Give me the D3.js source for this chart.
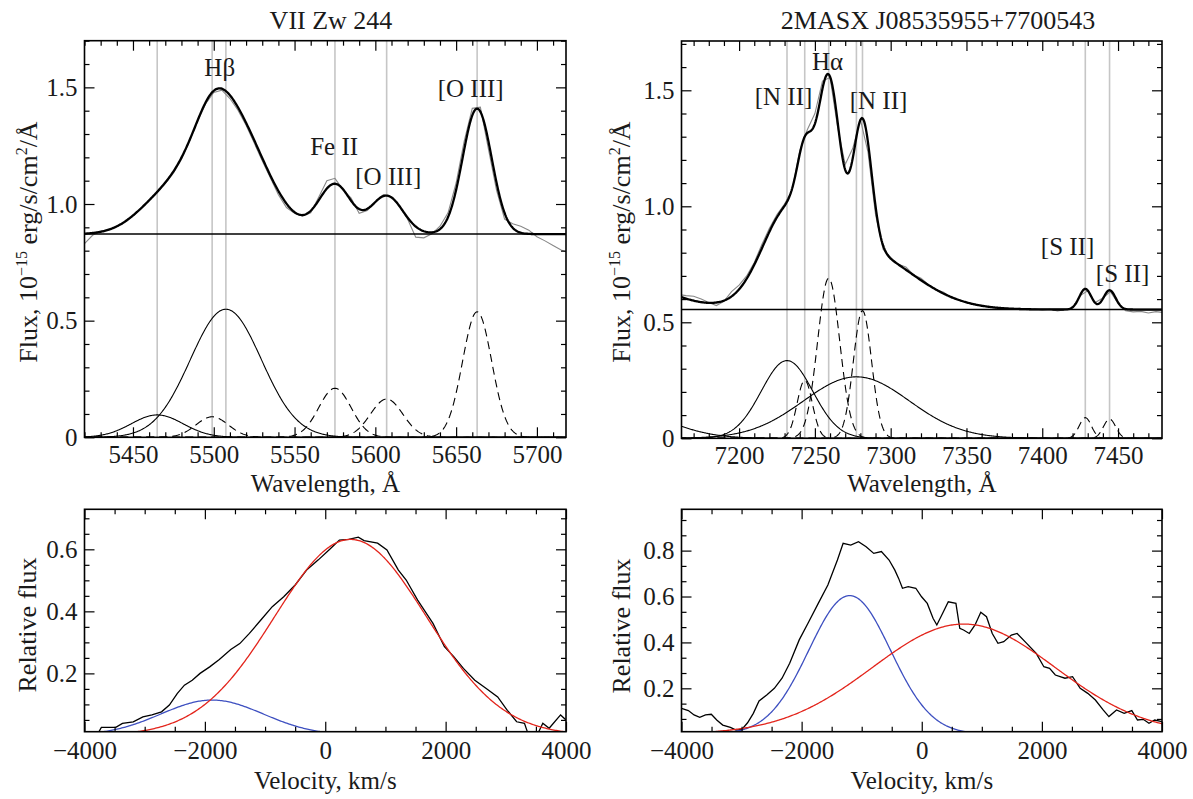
<!DOCTYPE html>
<html><head><meta charset="utf-8">
<script src="https://cdn.jsdelivr.net/npm/d3@7"></script>
<style>
body{margin:0;background:#fff;}
</style></head><body>
<svg id="chart" width="1193" height="799" xmlns="http://www.w3.org/2000/svg"></svg>
<script>
// ================= DATA =================
// --- Top-left: VII Zw 244, Hβ region ---
const tlTitle = "VII Zw 244";
const tlWaveDomain = [5420, 5718];
const tlFluxDomain = [0, 1.7];
const tlWaveMajor = [5450, 5500, 5550, 5600, 5650, 5700];
const tlWaveMinorStep = 10;
const tlFluxMajor = [0, 0.5, 1.0, 1.5];
const tlFluxMinorStep = 0.1;
const tlContinuum = 0.871;
const tlObsStart = 5420, tlObsStep = 5;
const tlObserved = [
  0.830,0.866,0.884,0.889,0.903,0.921,0.948,0.978,1.013,1.048,
  1.088,1.132,1.192,1.270,1.356,1.430,1.478,1.488,1.452,1.402,
  1.338,1.262,1.185,1.112,1.040,0.985,0.960,0.948,0.962,1.030,
  1.100,1.110,1.062,1.025,0.960,0.972,1.008,1.040,1.030,0.990,
  0.935,0.858,0.855,0.872,0.905,0.962,1.090,1.270,1.410,1.415,
  1.235,1.060,0.935,0.915,0.905,0.888,0.860,0.842,0.822,0.803,
  0.790];
// Gaussian fit components: centre (Å), peak flux, sigma (Å), broad(solid)/narrow(dashed)
const tlCompCenter = [5507.5, 5465, 5499, 5575, 5607, 5663];
const tlCompAmp    = [0.549, 0.096, 0.088, 0.210, 0.164, 0.538];
const tlCompSigma  = [22, 16, 10, 10, 10, 9];
const tlCompBroad  = [true, true, false, false, false, false];
const tlLineMarks  = [5465, 5499, 5507.5, 5575, 5607, 5663];
const tlLabels     = ["Hβ", "Fe II", "[O III]", "[O III]"];
const tlLabelWave  = [5503.7, 5574.5, 5608, 5659];
const tlLabelFlux  = [1.549, 1.21, 1.081, 1.46];

// --- Top-right: 2MASX J08535955+7700543, Hα region ---
const trTitle = "2MASX J08535955+7700543";
const trWaveDomain = [7162, 7479];
const trFluxDomain = [0, 1.7125];
const trWaveMajor = [7200, 7250, 7300, 7350, 7400, 7450];
const trWaveMinorStep = 10;
const trFluxMajor = [0, 0.5, 1.0, 1.5];
const trFluxMinorStep = 0.1;
const trContinuum = 0.555;
const trObsStart = 7160, trObsStep = 5;
const trObserved = [
  0.620,0.615,0.612,0.600,0.585,0.572,0.590,0.632,0.660,0.700,
  0.758,0.835,0.905,0.965,1.010,1.070,1.240,1.330,1.400,1.540,
  1.555,1.340,1.180,1.250,1.375,1.235,0.965,0.815,0.780,0.750,
  0.738,0.705,0.690,0.662,0.640,0.630,0.605,0.598,0.585,0.580,
  0.570,0.566,0.560,0.562,0.555,0.560,0.554,0.558,0.553,0.556,
  0.549,0.554,0.563,0.615,0.636,0.585,0.605,0.632,0.582,0.550,
  0.545,0.547,0.540,0.546,0.542];
const trCompCenter = [7277.4, 7231.6, 7120, 7243.3, 7259.1, 7281.4, 7428.4, 7444.4];
const trCompAmp    = [0.265, 0.335, 0.13, 0.25, 0.69, 0.55, 0.089, 0.083];
const trCompSigma  = [35, 17, 31, 5, 7.3, 6, 4, 4];
const trCompBroad  = [true, true, true, false, false, false, false, false];
const trLineMarks  = [7231.6, 7243.3, 7259.1, 7277.4, 7281.4, 7428.4, 7444.4];
const trLabels     = ["Hα", "[N II]", "[N II]", "[S II]", "[S II]"];
const trLabelWave  = [7258.4, 7229.3, 7292, 7416.7, 7453];
const trLabelFlux  = [1.588, 1.437, 1.418, 0.79, 0.675];

// --- Bottom-left: VII Zw 244 velocity profile ---
const blVelDomain = [-4000, 4000];
const blFluxDomain = [0.012, 0.729];
const blVelMajor = [-4000, -2000, 0, 2000, 4000];
const blVelMinorStep = 500;
const blFluxMajor = [0.2, 0.4, 0.6];
const blFluxMinorStep = 0.05;
const blVelocity = [-3780,-3720,-3480,-3370,-3190,-3030,-2880,-2720,-2590,-2460,
  -2340,-2210,-2080,-1920,-1760,-1570,-1420,-1260,-1070,-880,
  -690,-500,-310,-115,75,235,390,550,645,870,
  1025,1215,1345,1535,1790,1980,2135,2295,2485,2675,
  2865,3025,3180,3310,3370,3530,3615,3720,3910,4000];
const blFlux = [0.005,0.026,0.026,0.039,0.044,0.060,0.066,0.076,0.098,0.135,
  0.162,0.178,0.200,0.221,0.245,0.277,0.296,0.329,0.372,0.415,
  0.447,0.485,0.533,0.566,0.600,0.630,0.632,0.639,0.628,0.620,
  0.598,0.533,0.501,0.436,0.361,0.286,0.254,0.216,0.178,0.151,
  0.124,0.081,0.044,0.039,0.005,0.005,0.039,0.023,0.066,0.050];
const blFitCenter = [420, -1880];   // red, blue
const blFitAmp    = [0.632, 0.114];
const blFitSigma  = [1260, 850];

// --- Bottom-right: 2MASX velocity profile ---
const brVelDomain = [-4000, 4000];
const brFluxDomain = [0.011, 0.98];
const brVelMajor = [-4000, -2000, 0, 2000, 4000];
const brVelMinorStep = 500;
const brFluxMajor = [0.2, 0.4, 0.6, 0.8];
const brFluxMinorStep = 0.2 / 3;
const brVelocity = [-4000,-3886,-3791,-3696,-3600,-3504,-3409,-3313,-3186,-3091,
  -2995,-2900,-2804,-2709,-2581,-2454,-2326,-2199,-2040,-1881,
  -1723,-1563,-1404,-1309,-1182,-1053,-926,-799,-672,-544,
  -448,-385,-321,-226,-99,-3,92,188,251,346,
  442,569,633,696,791,887,983,1078,1174,1269,
  1365,1492,1588,1747,1906,2033,2128,2224,2384,2511,
  2638,2764,2891,3020,3116,3243,3370,3497,3592,3688,
  3783,3879,4000];
const brFlux = [0.113,0.103,0.084,0.074,0.084,0.087,0.061,0.040,0.030,0.018,
  0.021,0.050,0.091,0.145,0.171,0.200,0.244,0.309,0.411,0.490,
  0.570,0.650,0.759,0.832,0.824,0.839,0.817,0.788,0.796,0.759,
  0.715,0.679,0.636,0.643,0.636,0.599,0.570,0.505,0.476,0.526,
  0.577,0.570,0.461,0.454,0.439,0.476,0.531,0.512,0.439,0.396,
  0.403,0.432,0.439,0.396,0.352,0.294,0.287,0.258,0.244,0.251,
  0.200,0.178,0.149,0.106,0.077,0.106,0.091,0.103,0.062,0.065,
  0.048,0.062,0.055];
const brFitCenter = [700, -1200];   // red, blue
const brFitAmp    = [0.48, 0.604];
const brFitSigma  = [1520, 680];

// ================= DRAWING =================
const FONT = '"Liberation Serif","Times New Roman",Times,serif';
const TEXT = '#1a1a1a';
const svg = d3.select('#chart');
let clipCount = 0;
const gauss = (v, c, a, s) => a * Math.exp(-((v - c) ** 2) / (2 * s * s));

function minorValues(domain, step, majors) {
  const out = [];
  const start = Math.ceil(domain[0] / step - 1e-9);
  const end = Math.floor(domain[1] / step + 1e-9);
  for (let k = start; k <= end; k++) {
    const v = k * step;
    if (!majors.some(m => Math.abs(m - v) < step * 1e-3)) out.push(v);
  }
  return out;
}

function makePanel(p) {
  const x = d3.scaleLinear().domain(p.xDomain).range([p.left, p.right]);
  const y = d3.scaleLinear().domain(p.yDomain).range([p.bottom, p.top]);
  const g = svg.append('g');
  const id = 'clip' + (clipCount++);
  svg.append('clipPath').attr('id', id).append('rect')
    .attr('x', p.left).attr('y', p.top)
    .attr('width', p.right - p.left).attr('height', p.bottom - p.top);
  const plot = g.append('g').attr('clip-path', `url(#${id})`);
  return { x, y, g, plot };
}

function styleAxis(sel) {
  sel.select('.domain').remove();
  sel.selectAll('line').attr('stroke', '#000').attr('stroke-width', 1.2);
  sel.selectAll('text').attr('font-family', FONT).attr('font-size', 25).attr('fill', TEXT);
}

function drawAxes(P, p) {
  const { x, y, g } = P;
  const xMinor = minorValues(p.xDomain, p.xMinorStep, p.xMajor);
  const yMinor = minorValues(p.yDomain, p.yMinorStep, p.yMajor);
  const ax = g.append('g');
  ax.append('g').attr('transform', `translate(0,${p.bottom})`)
    .call(d3.axisBottom(x).tickValues(xMinor).tickSize(-5).tickFormat('')).call(styleAxis);
  ax.append('g').attr('transform', `translate(0,${p.bottom})`)
    .call(d3.axisBottom(x).tickValues(p.xMajor).tickSize(-10).tickPadding(p.xPad).tickFormat(p.xFormat)).call(styleAxis);
  ax.append('g').attr('transform', `translate(0,${p.top})`)
    .call(d3.axisTop(x).tickValues(xMinor).tickSize(-5).tickFormat('')).call(styleAxis);
  ax.append('g').attr('transform', `translate(0,${p.top})`)
    .call(d3.axisTop(x).tickValues(p.xMajor).tickSize(-10).tickFormat('')).call(styleAxis);
  ax.append('g').attr('transform', `translate(${p.left},0)`)
    .call(d3.axisLeft(y).tickValues(yMinor).tickSize(-5).tickFormat('')).call(styleAxis);
  ax.append('g').attr('transform', `translate(${p.left},0)`)
    .call(d3.axisLeft(y).tickValues(p.yMajor).tickSize(-10).tickPadding(7).tickFormat(p.yFormat)).call(styleAxis);
  ax.append('g').attr('transform', `translate(${p.right},0)`)
    .call(d3.axisRight(y).tickValues(yMinor).tickSize(-5).tickFormat('')).call(styleAxis);
  ax.append('g').attr('transform', `translate(${p.right},0)`)
    .call(d3.axisRight(y).tickValues(p.yMajor).tickSize(-10).tickFormat('')).call(styleAxis);
  g.append('rect').attr('x', p.left).attr('y', p.top)
    .attr('width', p.right - p.left).attr('height', p.bottom - p.top)
    .attr('fill', 'none').attr('stroke', '#000').attr('stroke-width', 1.6);
}

function addText(x, y, str, size, anchor) {
  return svg.append('text').attr('x', x).attr('y', y).text(str)
    .attr('font-family', FONT).attr('font-size', size).attr('fill', TEXT)
    .attr('text-anchor', anchor || 'middle');
}

function fluxYLabel(bx, cy) {
  const t = svg.append('text').attr('transform', `translate(${bx},${cy}) rotate(-90)`)
    .attr('text-anchor', 'middle').attr('font-family', FONT).attr('font-size', 26).attr('fill', TEXT);
  t.append('tspan').text('Flux, 10');
  t.append('tspan').attr('dy', -10).attr('font-size', 16).text('−15');
  t.append('tspan').attr('dy', 10).text(' erg/s/cm');
  t.append('tspan').attr('dy', -10).attr('font-size', 16).text('2');
  t.append('tspan').attr('dy', 10).text('/Å');
}
function relYLabel(bx, cy) {
  svg.append('text').attr('transform', `translate(${bx},${cy}) rotate(-90)`)
    .attr('text-anchor', 'middle').attr('font-family', FONT).attr('font-size', 26).attr('fill', TEXT)
    .text('Relative flux');
}

const fluxFmt = d => d === 0 ? '0' : d.toFixed(1);
const velFmt = d => d < 0 ? '−' + Math.abs(d) : String(d);

function spectrumPanel(p, d) {
  const P = makePanel(p);
  const { x, y, plot } = P;
  plot.selectAll('line.mark').data(d.marks).join('line').attr('class', 'mark')
    .attr('x1', v => x(v)).attr('x2', v => x(v)).attr('y1', p.top).attr('y2', p.bottom)
    .attr('stroke', '#c6c6c6').attr('stroke-width', 1.6);
  const grid = d3.range(p.xDomain[0] - 2, p.xDomain[1] + 2, 0.5);
  const line = d3.line().x(v => x(v[0])).y(v => y(v[1]));
  d.center.forEach((c, i) => {
    const pts = grid.map(w => [w, gauss(w, c, d.amp[i], d.sigma[i])]);
    plot.append('path').attr('d', line(pts)).attr('fill', 'none')
      .attr('stroke', '#000').attr('stroke-width', 1.1)
      .attr('stroke-dasharray', d.broad[i] ? null : '8,5');
  });
  const obs = d.obs.map((f, i) => [d.obsStart + i * d.obsStep, f]);
  plot.append('path').attr('d', line(obs)).attr('fill', 'none')
    .attr('stroke', '#888').attr('stroke-width', 1.1);
  plot.append('line').attr('x1', p.left).attr('x2', p.right)
    .attr('y1', y(d.cont)).attr('y2', y(d.cont)).attr('stroke', '#000').attr('stroke-width', 1.5);
  const model = grid.map(w => [w, d.cont + d3.sum(d.center, (c, i) => gauss(w, c, d.amp[i], d.sigma[i]))]);
  plot.append('path').attr('d', line(model)).attr('fill', 'none')
    .attr('stroke', '#000').attr('stroke-width', 2.3);
  drawAxes(P, p);
  d.labels.forEach((s, i) => addText(x(d.labelWave[i]), y(d.labelFlux[i]), s, 25));
  return P;
}

function velocityPanel(p, d) {
  const P = makePanel(p);
  const { x, y, plot } = P;
  const line = d3.line().x(v => x(v[0])).y(v => y(v[1]));
  const obs = d.vel.map((v, i) => [v, d.flux[i]]);
  plot.append('path').attr('d', line(obs)).attr('fill', 'none')
    .attr('stroke', '#000').attr('stroke-width', 1.3);
  const grid = d3.range(-4100, 4101, 20);
  const colors = ['#e3241b', '#3d4fc0'];
  [1, 0].forEach(i => {
    const pts = grid.map(v => [v, gauss(v, d.center[i], d.amp[i], d.sigma[i])]);
    plot.append('path').attr('d', line(pts)).attr('fill', 'none')
      .attr('stroke', colors[i]).attr('stroke-width', 1.3);
  });
  drawAxes(P, p);
  return P;
}

spectrumPanel({
  left: 84.5, right: 566, top: 40.7, bottom: 437.3,
  xDomain: tlWaveDomain, yDomain: tlFluxDomain,
  xMajor: tlWaveMajor, xMinorStep: tlWaveMinorStep, xFormat: d => String(d), xPad: 8,
  yMajor: tlFluxMajor, yMinorStep: tlFluxMinorStep, yFormat: fluxFmt
}, {
  marks: tlLineMarks, center: tlCompCenter, amp: tlCompAmp, sigma: tlCompSigma, broad: tlCompBroad,
  obs: tlObserved, obsStart: tlObsStart, obsStep: tlObsStep, cont: tlContinuum,
  labels: tlLabels, labelWave: tlLabelWave, labelFlux: tlLabelFlux
});
spectrumPanel({
  left: 681.5, right: 1162, top: 41, bottom: 438.3,
  xDomain: trWaveDomain, yDomain: trFluxDomain,
  xMajor: trWaveMajor, xMinorStep: trWaveMinorStep, xFormat: d => String(d), xPad: 8,
  yMajor: trFluxMajor, yMinorStep: trFluxMinorStep, yFormat: fluxFmt
}, {
  marks: trLineMarks, center: trCompCenter, amp: trCompAmp, sigma: trCompSigma, broad: trCompBroad,
  obs: trObserved, obsStart: trObsStart, obsStep: trObsStep, cont: trContinuum,
  labels: trLabels, labelWave: trLabelWave, labelFlux: trLabelFlux
});
velocityPanel({
  left: 84.5, right: 566, top: 509.3, bottom: 731.7,
  xDomain: blVelDomain, yDomain: blFluxDomain,
  xMajor: blVelMajor, xMinorStep: blVelMinorStep, xFormat: velFmt, xPad: 10,
  yMajor: blFluxMajor, yMinorStep: blFluxMinorStep, yFormat: d => d.toFixed(1)
}, { vel: blVelocity, flux: blFlux, center: blFitCenter, amp: blFitAmp, sigma: blFitSigma });
velocityPanel({
  left: 681.5, right: 1162, top: 509.3, bottom: 731.7,
  xDomain: brVelDomain, yDomain: brFluxDomain,
  xMajor: brVelMajor, xMinorStep: brVelMinorStep, xFormat: velFmt, xPad: 10,
  yMajor: brFluxMajor, yMinorStep: brFluxMinorStep, yFormat: d => d.toFixed(1)
}, { vel: brVelocity, flux: brFlux, center: brFitCenter, amp: brFitAmp, sigma: brFitSigma });

addText(331, 29, tlTitle, 26);
addText(938, 29, trTitle, 26);
addText(325.3, 492, 'Wavelength, Å', 25);
addText(921.8, 492, 'Wavelength, Å', 25);
addText(325.3, 789, 'Velocity, km/s', 25);
addText(921.8, 789, 'Velocity, km/s', 25);
fluxYLabel(37, 242);
fluxYLabel(630, 242);
relYLabel(36, 625);
relYLabel(630, 626);
</script>
</body></html>
